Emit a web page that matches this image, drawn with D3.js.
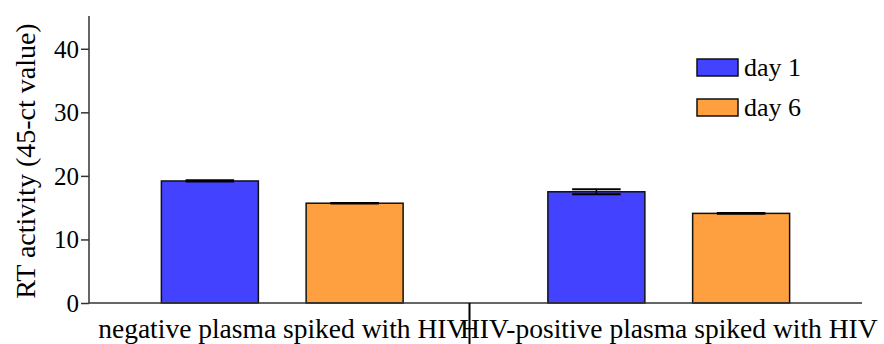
<!DOCTYPE html>
<html>
<head>
<meta charset="utf-8">
<script src="https://cdn.jsdelivr.net/npm/d3@7"></script>
<style>
  html, body { margin: 0; padding: 0; background: #fff; }
  svg { display: block; }
  svg text { font-family: "Liberation Serif", "Times New Roman", serif; fill: #000; }
</style>
</head>
<body>
<svg id="chart" width="884" height="344"></svg>
<script>
// RT activity per sample type, measured on day 1 and day 6
const categories = ["negative plasma spiked with HIV", "HIV-positive plasma spiked with HIV"];
const seriesNames = ["day 1", "day 6"];
const day1Values = [19.2, 17.5];
const day6Values = [15.7, 14.1];
const day1Errors = [0.1, 0.4];
const day6Errors = [0.05, 0.05];
const yTicks = [0, 10, 20, 30, 40];
const yLabel = "RT activity (45-ct value)";

const colors = { "day 1": "#4242ff", "day 6": "#ffa040" };

const rows = categories.map((c, i) => ({
  category: c,
  bars: [
    { series: "day 1", value: day1Values[i], err: day1Errors[i] },
    { series: "day 6", value: day6Values[i], err: day6Errors[i] }
  ]
}));

const svg = d3.select("#chart");
const plotLeft = 89, plotRight = 862, plotTop = 17, plotBottom = 303;

const x = d3.scaleBand().domain(categories).range([plotLeft, plotRight]).padding(0);
const xSub = d3.scaleBand().domain(seriesNames).range([0, x.bandwidth()])
  .paddingInner(0.33).paddingOuter(0.5);
const y = d3.scaleLinear().domain([0, 45]).range([plotBottom, plotTop]);

// bars
const groups = svg.append("g").selectAll("g").data(rows).join("g")
  .attr("transform", d => `translate(${x(d.category)},0)`);

groups.selectAll("rect").data(d => d.bars).join("rect")
  .attr("x", d => xSub(d.series))
  .attr("y", d => y(d.value))
  .attr("width", xSub.bandwidth())
  .attr("height", d => y(0) - y(d.value))
  .attr("fill", d => colors[d.series])
  .attr("stroke", "#111")
  .attr("stroke-width", 1.5);

// error bars
const capHalf = xSub.bandwidth() / 4;
const eb = groups.selectAll("g.err").data(d => d.bars).join("g").attr("class", "err")
  .attr("transform", d => `translate(${xSub(d.series) + xSub.bandwidth() / 2},0)`);
eb.append("line")
  .attr("y1", d => y(d.value + d.err)).attr("y2", d => y(d.value - d.err))
  .attr("stroke", "#000").attr("stroke-width", 1.5);
eb.append("line")
  .attr("x1", -capHalf).attr("x2", capHalf)
  .attr("y1", d => y(d.value + d.err)).attr("y2", d => y(d.value + d.err))
  .attr("stroke", "#000").attr("stroke-width", 2);
eb.append("line")
  .attr("x1", -capHalf).attr("x2", capHalf)
  .attr("y1", d => y(d.value - d.err)).attr("y2", d => y(d.value - d.err))
  .attr("stroke", "#000").attr("stroke-width", 2);

// y axis
const yAxis = svg.append("g")
  .attr("transform", `translate(${plotLeft},0)`)
  .call(d3.axisLeft(y).tickValues(yTicks).tickSize(8).tickPadding(2).tickSizeOuter(0));
yAxis.attr("font-family", null);
yAxis.select(".domain").attr("stroke", "#333").attr("stroke-width", 1.5)
  .attr("d", `M0,${plotTop - 1}V${plotBottom}`);
yAxis.selectAll(".tick line").attr("stroke", "#333").attr("stroke-width", 1.5);
yAxis.selectAll(".tick text").attr("font-size", 25).attr("dy", "0.34em");

// x axis baseline
svg.append("line")
  .attr("x1", plotLeft).attr("x2", plotRight).attr("y1", y(0)).attr("y2", y(0))
  .attr("stroke", "#333").attr("stroke-width", 1.5);

// category labels
svg.append("g").selectAll("text").data(categories).join("text")
  .attr("x", d => x(d) + x.bandwidth() / 2)
  .attr("y", 338)
  .attr("text-anchor", "middle")
  .attr("font-size", 27.5)
  .text(d => d);

// separator between the two sample groups
const sepX = x(categories[1]) - 6;
svg.append("line")
  .attr("x1", sepX).attr("x2", sepX).attr("y1", y(0)).attr("y2", 344)
  .attr("stroke", "#000").attr("stroke-width", 2);

// y axis title
svg.append("text")
  .attr("transform", `translate(35,${(plotTop + plotBottom) / 2 + 1}) rotate(-90)`)
  .attr("text-anchor", "middle")
  .attr("font-size", 28)
  .text(yLabel);

// legend
const legend = svg.append("g").attr("transform", "translate(697,59)");
const li = legend.selectAll("g").data(seriesNames).join("g")
  .attr("transform", (d, i) => `translate(0,${i * 40})`);
li.append("rect").attr("width", 41).attr("height", 17)
  .attr("fill", d => colors[d]).attr("stroke", "#111").attr("stroke-width", 1.5);
li.append("text").attr("x", 47).attr("y", 17)
  .attr("font-size", 26).text(d => d);
</script>
</body>
</html>
